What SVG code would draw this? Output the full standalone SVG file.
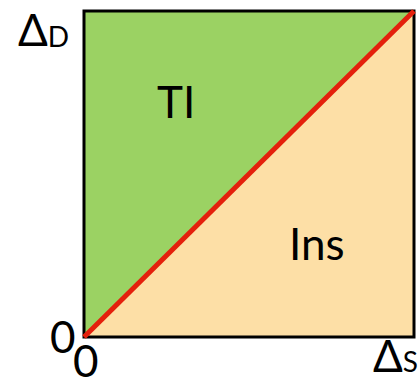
<svg xmlns="http://www.w3.org/2000/svg" width="419" height="386" viewBox="0 0 419 386">
<style>
text{font-family:Lato,"Open Sans","DejaVu Sans",sans-serif;fill:#000}
.big{font-size:44px}
.sub{font-size:28px}
</style>
<rect width="419" height="386" fill="#fff"/>
<g id="regions">
<polygon id="TI-region" points="84,11 414,11 84,337" fill="#9BD263"/>
<polygon id="Ins-region" points="414,11 414,337 84,337" fill="#FDDFA6"/>
<rect x="84" y="11" width="330" height="326" fill="none" stroke="#000" stroke-width="3"/>
</g>
<g id="connectors">
<line x1="84" y1="337" x2="414" y2="11" stroke="#E4200C" stroke-width="5"/>
</g>
<g id="labels">
<text class="big" x="18" y="46">Δ<tspan class="sub" dy="1">D</tspan></text>
<text class="big" x="50" y="353">0</text>
<text class="big" x="73" y="377">0</text>
<text class="big" x="373" y="372">Δ<tspan class="sub">S</tspan></text>
<text class="big" x="157" y="118">TI</text>
<text class="big" x="289" y="260">Ins</text>
</g>
</svg>
